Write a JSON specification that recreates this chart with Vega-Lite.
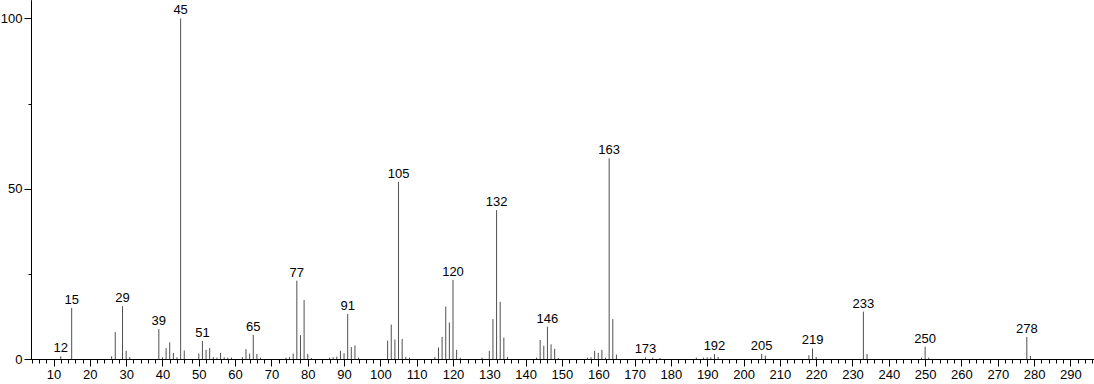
{
  "$schema": "https://vega.github.io/schema/vega-lite/v6.json",
  "width": 1063,
  "height": 359,
  "autosize": {"type": "none"},
  "padding": {"left": 31, "top": 0, "right": 0, "bottom": 25},
  "background": "white",
  "config": {
    "view": {"stroke": null},
    "axis": {"labelFont": "Liberation Sans", "labelFontSize": 13, "labelColor": "#000000", "domainColor": "#000000", "tickColor": "#000000", "grid": false}
  },
  "data": {
    "values": [
      {"mz": 12, "intensity": 0.8, "label": "12"},
      {"mz": 15, "intensity": 15.0, "label": "15"},
      {"mz": 26, "intensity": 0.8, "label": ""},
      {"mz": 27, "intensity": 7.9, "label": ""},
      {"mz": 29, "intensity": 15.5, "label": "29"},
      {"mz": 30, "intensity": 2.4, "label": ""},
      {"mz": 31, "intensity": 0.6, "label": ""},
      {"mz": 39, "intensity": 8.8, "label": "39"},
      {"mz": 40, "intensity": 0.5, "label": ""},
      {"mz": 41, "intensity": 3.2, "label": ""},
      {"mz": 42, "intensity": 4.9, "label": ""},
      {"mz": 43, "intensity": 1.8, "label": ""},
      {"mz": 44, "intensity": 0.5, "label": ""},
      {"mz": 45, "intensity": 100, "label": "45"},
      {"mz": 46, "intensity": 2.5, "label": ""},
      {"mz": 50, "intensity": 1.6, "label": ""},
      {"mz": 51, "intensity": 5.3, "label": "51"},
      {"mz": 52, "intensity": 2.7, "label": ""},
      {"mz": 53, "intensity": 3.2, "label": ""},
      {"mz": 54, "intensity": 0.6, "label": ""},
      {"mz": 55, "intensity": 0.4, "label": ""},
      {"mz": 56, "intensity": 1.8, "label": ""},
      {"mz": 57, "intensity": 0.5, "label": ""},
      {"mz": 58, "intensity": 0.4, "label": ""},
      {"mz": 59, "intensity": 0.4, "label": ""},
      {"mz": 62, "intensity": 0.6, "label": ""},
      {"mz": 63, "intensity": 2.9, "label": ""},
      {"mz": 64, "intensity": 1.6, "label": ""},
      {"mz": 65, "intensity": 7.1, "label": "65"},
      {"mz": 66, "intensity": 1.5, "label": ""},
      {"mz": 67, "intensity": 0.4, "label": ""},
      {"mz": 74, "intensity": 0.4, "label": ""},
      {"mz": 75, "intensity": 0.6, "label": ""},
      {"mz": 76, "intensity": 1.6, "label": ""},
      {"mz": 77, "intensity": 23.0, "label": "77"},
      {"mz": 78, "intensity": 7.0, "label": ""},
      {"mz": 79, "intensity": 17.3, "label": ""},
      {"mz": 80, "intensity": 1.5, "label": ""},
      {"mz": 81, "intensity": 0.3, "label": ""},
      {"mz": 86, "intensity": 0.4, "label": ""},
      {"mz": 87, "intensity": 0.5, "label": ""},
      {"mz": 88, "intensity": 0.7, "label": ""},
      {"mz": 89, "intensity": 2.4, "label": ""},
      {"mz": 90, "intensity": 1.7, "label": ""},
      {"mz": 91, "intensity": 13.2, "label": "91"},
      {"mz": 92, "intensity": 3.5, "label": ""},
      {"mz": 93, "intensity": 4.0, "label": ""},
      {"mz": 94, "intensity": 0.4, "label": ""},
      {"mz": 102, "intensity": 5.4, "label": ""},
      {"mz": 103, "intensity": 10.1, "label": ""},
      {"mz": 104, "intensity": 5.7, "label": ""},
      {"mz": 105, "intensity": 52.0, "label": "105"},
      {"mz": 106, "intensity": 5.9, "label": ""},
      {"mz": 107, "intensity": 0.6, "label": ""},
      {"mz": 108, "intensity": 0.4, "label": ""},
      {"mz": 115, "intensity": 0.6, "label": ""},
      {"mz": 116, "intensity": 3.4, "label": ""},
      {"mz": 117, "intensity": 6.5, "label": ""},
      {"mz": 118, "intensity": 15.4, "label": ""},
      {"mz": 119, "intensity": 10.7, "label": ""},
      {"mz": 120, "intensity": 23.2, "label": "120"},
      {"mz": 121, "intensity": 2.7, "label": ""},
      {"mz": 122, "intensity": 0.4, "label": ""},
      {"mz": 128, "intensity": 0.4, "label": ""},
      {"mz": 130, "intensity": 2.4, "label": ""},
      {"mz": 131, "intensity": 11.7, "label": ""},
      {"mz": 132, "intensity": 43.7, "label": "132"},
      {"mz": 133, "intensity": 16.8, "label": ""},
      {"mz": 134, "intensity": 6.3, "label": ""},
      {"mz": 135, "intensity": 0.6, "label": ""},
      {"mz": 143, "intensity": 0.4, "label": ""},
      {"mz": 144, "intensity": 5.6, "label": ""},
      {"mz": 145, "intensity": 3.9, "label": ""},
      {"mz": 146, "intensity": 9.5, "label": "146"},
      {"mz": 147, "intensity": 4.3, "label": ""},
      {"mz": 148, "intensity": 3.0, "label": ""},
      {"mz": 149, "intensity": 0.3, "label": ""},
      {"mz": 157, "intensity": 0.4, "label": ""},
      {"mz": 158, "intensity": 0.5, "label": ""},
      {"mz": 159, "intensity": 2.4, "label": ""},
      {"mz": 160, "intensity": 1.8, "label": ""},
      {"mz": 161, "intensity": 2.7, "label": ""},
      {"mz": 162, "intensity": 0.4, "label": ""},
      {"mz": 163, "intensity": 58.9, "label": "163"},
      {"mz": 164, "intensity": 11.7, "label": ""},
      {"mz": 165, "intensity": 1.3, "label": ""},
      {"mz": 173, "intensity": 0.5, "label": "173"},
      {"mz": 175, "intensity": 0.4, "label": ""},
      {"mz": 177, "intensity": 0.3, "label": ""},
      {"mz": 187, "intensity": 0.4, "label": ""},
      {"mz": 189, "intensity": 0.4, "label": ""},
      {"mz": 190, "intensity": 0.5, "label": ""},
      {"mz": 191, "intensity": 0.5, "label": ""},
      {"mz": 192, "intensity": 1.4, "label": "192"},
      {"mz": 193, "intensity": 0.6, "label": ""},
      {"mz": 205, "intensity": 1.5, "label": "205"},
      {"mz": 206, "intensity": 1.0, "label": ""},
      {"mz": 218, "intensity": 1.1, "label": ""},
      {"mz": 219, "intensity": 3.1, "label": "219"},
      {"mz": 220, "intensity": 0.6, "label": ""},
      {"mz": 233, "intensity": 13.9, "label": "233"},
      {"mz": 234, "intensity": 1.5, "label": ""},
      {"mz": 249, "intensity": 0.4, "label": ""},
      {"mz": 250, "intensity": 3.6, "label": "250"},
      {"mz": 251, "intensity": 0.4, "label": ""},
      {"mz": 278, "intensity": 6.5, "label": "278"},
      {"mz": 279, "intensity": 0.9, "label": ""}
    ]
  },
  "layer": [
    {
      "mark": {"type": "rule", "color": "#505050", "strokeWidth": 1},
      "encoding": {
        "x": {
          "field": "mz", "type": "quantitative",
          "scale": {"domain": [3.8, 296.5], "nice": false, "zero": false},
          "axis": {"orient": "bottom", "title": null, "labels": false, "tickSize": 4,
            "values": [4,6,8,10,12,14,16,18,20,22,24,26,28,30,32,34,36,38,40,42,44,46,48,50,52,54,56,58,60,62,64,66,68,70,72,74,76,78,80,82,84,86,88,90,92,94,96,98,100,102,104,106,108,110,112,114,116,118,120,122,124,126,128,130,132,134,136,138,140,142,144,146,148,150,152,154,156,158,160,162,164,166,168,170,172,174,176,178,180,182,184,186,188,190,192,194,196,198,200,202,204,206,208,210,212,214,216,218,220,222,224,226,228,230,232,234,236,238,240,242,244,246,248,250,252,254,256,258,260,262,264,266,268,270,272,274,276,278,280,282,284,286,288,290,292,294,296]}
        },
        "y": {
          "field": "intensity", "type": "quantitative",
          "scale": {"domain": [0, 105.4], "nice": false},
          "axis": {"orient": "left", "title": null, "labels": false, "tickSize": 3, "values": [25, 75]}
        },
        "y2": {"datum": 0}
      }
    },
    {
      "transform": [{"filter": "datum.label != ''"}],
      "mark": {"type": "text", "font": "Liberation Sans", "fontSize": 13, "baseline": "alphabetic", "dy": -4, "color": "#000000"},
      "encoding": {
        "x": {
          "field": "mz", "type": "quantitative",
          "axis": {"orient": "bottom", "title": null, "tickSize": 7, "labelPadding": 2,
            "values": [10,20,30,40,50,60,70,80,90,100,110,120,130,140,150,160,170,180,190,200,210,220,230,240,250,260,270,280,290]}
        },
        "y": {
          "field": "intensity", "type": "quantitative",
          "axis": {"orient": "left", "title": null, "tickSize": 7, "labelPadding": 2, "values": [0, 50, 100]}
        },
        "text": {"field": "label"}
      }
    }
  ],
  "resolve": {"axis": {"x": "independent", "y": "independent"}}
}
